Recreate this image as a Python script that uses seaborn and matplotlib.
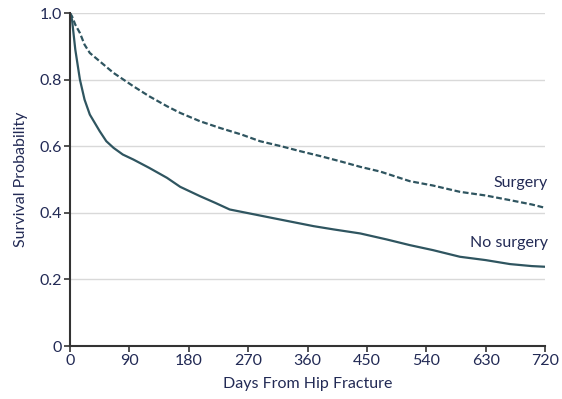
import matplotlib
matplotlib.use("Agg")
import matplotlib.pyplot as plt
import seaborn as sns
import pandas as pd

# Data
days_surgery = [0, 3, 8, 15, 22, 30, 45, 66, 96, 120, 147, 167, 197, 227, 260, 288, 320, 349, 380, 409,
                440, 470, 515, 550, 591, 630, 667, 700, 720]
surv_surgery = [1.0, 0.99, 0.965, 0.94, 0.905, 0.88, 0.855, 0.82, 0.78, 0.75, 0.72, 0.70, 0.675, 0.655,
                0.635, 0.615, 0.60, 0.585, 0.57, 0.555, 0.538, 0.524, 0.495, 0.482, 0.463, 0.452,
                0.438, 0.425, 0.415]
days_nosurgery = [0, 3, 8, 15, 22, 30, 45, 55, 66, 80, 96, 120, 147, 167, 197, 220, 242, 280, 318, 369,
                  400, 440, 480, 515, 550, 591, 630, 667, 700, 720]
surv_nosurgery = [1.0, 0.98, 0.89, 0.80, 0.74, 0.695, 0.645, 0.615, 0.595, 0.575, 0.56, 0.535, 0.505,
                  0.478, 0.45, 0.43, 0.41, 0.395, 0.38, 0.36, 0.35, 0.338, 0.32, 0.303, 0.288, 0.268,
                  0.258, 0.246, 0.24, 0.238]
x_ticks = [0, 90, 180, 270, 360, 450, 540, 630, 720]
y_ticks = [0, 0.2, 0.4, 0.6, 0.8, 1.0]
y_tick_labels = ["0", "0.2", "0.4", "0.6", "0.8", "1.0"]
series_labels = ["Surgery", "No surgery"]

sns.set_theme(style="white")
plt.rcParams['font.family'] = ['Lato', 'DejaVu Sans']

line_color = "#2f5560"
text_color = "#222a55"

df_s = pd.DataFrame({"day": days_surgery, "surv": surv_surgery})
df_n = pd.DataFrame({"day": days_nosurgery, "surv": surv_nosurgery})

fig = plt.figure(figsize=(5.62, 3.99), dpi=100)
ax = fig.add_axes([0.1246, 0.1328, 0.9698 - 0.1246, 0.9674 - 0.1328])

for yt in y_ticks[1:]:
    ax.axhline(yt, color="#d9d9d9", lw=1.0, zorder=0)

sns.lineplot(data=df_s, x="day", y="surv", ax=ax, color=line_color, lw=1.6,
             linestyle=(0, (2.6, 1.2)))
sns.lineplot(data=df_n, x="day", y="surv", ax=ax, color=line_color, lw=1.6)

ax.set_xlim(0, 720)
ax.set_ylim(0, 1.0)
ax.set_xticks(x_ticks)
ax.set_xticklabels([str(t) for t in x_ticks])
ax.set_yticks(y_ticks)
ax.set_yticklabels(y_tick_labels)
ax.tick_params(axis="both", which="major", direction="out", length=4, width=1.2,
               color="#333333", labelsize=11.5, labelcolor=text_color, pad=2,
               bottom=True, left=True)

for side in ["top", "right"]:
    ax.spines[side].set_visible(False)
for side in ["left", "bottom"]:
    ax.spines[side].set_color("#333333")
    ax.spines[side].set_linewidth(1.5)

ax.set_xlabel("Days From Hip Fracture", fontsize=11.5, color=text_color, labelpad=6)
ax.set_ylabel("Survival Probability", fontsize=11.5, color=text_color, labelpad=8)

ax.text(724, 0.49, series_labels[0], ha="right", va="center", fontsize=11.5, color=text_color)
ax.text(724, 0.31, series_labels[1], ha="right", va="center", fontsize=11.5, color=text_color)

fig.savefig("out.png", dpi=100)
